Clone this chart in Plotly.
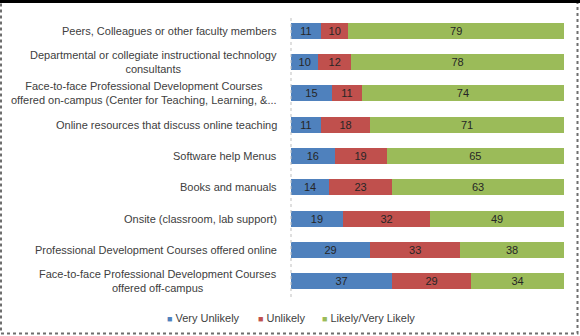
import plotly.graph_objects as go

categories = [
    "Peers, Colleagues or other faculty members",
    "Departmental or collegiate instructional technology<br>consultants",
    "Face-to-face Professional Development Courses<br>offered on-campus (Center for Teaching, Learning, &...",
    "Online resources that discuss online teaching",
    "Software help Menus",
    "Books and manuals",
    "Onsite (classroom, lab support)",
    "Professional Development Courses offered online",
    "Face-to-face Professional Development Courses<br>offered off-campus",
]
very_unlikely = [11, 10, 15, 11, 16, 14, 19, 29, 37]
unlikely = [10, 12, 11, 18, 19, 23, 32, 33, 29]
likely = [79, 78, 74, 71, 65, 63, 49, 38, 34]
series_names = ["Very Unlikely", "Unlikely", "Likely/Very Likely"]
series_colors = ["#4F81BD", "#C0504D", "#9BBB59"]

W, H = 580, 336
L, R, T, B = 291, 16, 15, 39
pw, ph = W - L - R, H - T - B
FONT = "Liberation Sans, Arial, sans-serif"

fig = go.Figure()
for name, vals, col in zip(series_names, [very_unlikely, unlikely, likely], series_colors):
    fig.add_trace(go.Bar(
        y=categories, x=vals, name=name, orientation="h",
        marker=dict(color=col, line=dict(width=0)),
        text=[str(v) for v in vals], textposition="inside",
        insidetextanchor="middle", textangle=0,
        textfont=dict(family=FONT, size=11, color="#262626"),
        hoverinfo="skip", showlegend=False,
    ))

def px2x(px):
    return (px - L) / pw

def px2y(py):
    return 1 - (py - T) / ph

annotations = []
for c in categories:
    annotations.append(dict(
        x=0, xref="paper", y=c, yref="y", text=c, showarrow=False,
        xanchor="right", yanchor="middle", align="center", xshift=-12,
        font=dict(family=FONT, size=11, color="#404040"),
    ))

# legend built as text entries (small coloured squares + series name)
legend_x_px = [165, 256, 320]
for name, col, lx in zip(series_names, series_colors, legend_x_px):
    annotations.append(dict(
        x=px2x(lx), xref="paper", y=px2y(318), yref="paper",
        text=f'<span style="color:{col};font-size:9px">■</span> {name}',
        showarrow=False, xanchor="left", yanchor="middle",
        font=dict(family=FONT, size=11, color="#404040"),
    ))

shapes = [
    dict(type="line", xref="paper", yref="paper", x0=0, x1=0, y0=0, y1=1,
         line=dict(color="#BFBFBF", width=1, dash="dot")),
    dict(type="rect", xref="paper", yref="paper",
         x0=px2x(1), x1=px2x(577.5), y0=px2y(333.5), y1=px2y(1),
         line=dict(color="#6E6E6E", width=2, dash="dot")),
    dict(type="line", xref="paper", yref="paper",
         x0=px2x(0), x1=px2x(580), y0=px2y(1.5), y1=px2y(1.5),
         line=dict(color="#000000", width=3)),
]

fig.update_layout(
    width=W, height=H,
    margin=dict(l=L, r=R, t=T, b=B, pad=0),
    barmode="stack", bargap=0.49,
    plot_bgcolor="white", paper_bgcolor="white",
    xaxis=dict(range=[0, 100], visible=False, fixedrange=True),
    yaxis=dict(autorange="reversed", showticklabels=False, showgrid=False,
               zeroline=False, showline=False, ticks=""),
    showlegend=False,
    annotations=annotations,
    shapes=shapes,
    uniformtext=dict(minsize=11, mode="show"),
)

fig.write_html("out.html", config={"displayModeBar": False})
